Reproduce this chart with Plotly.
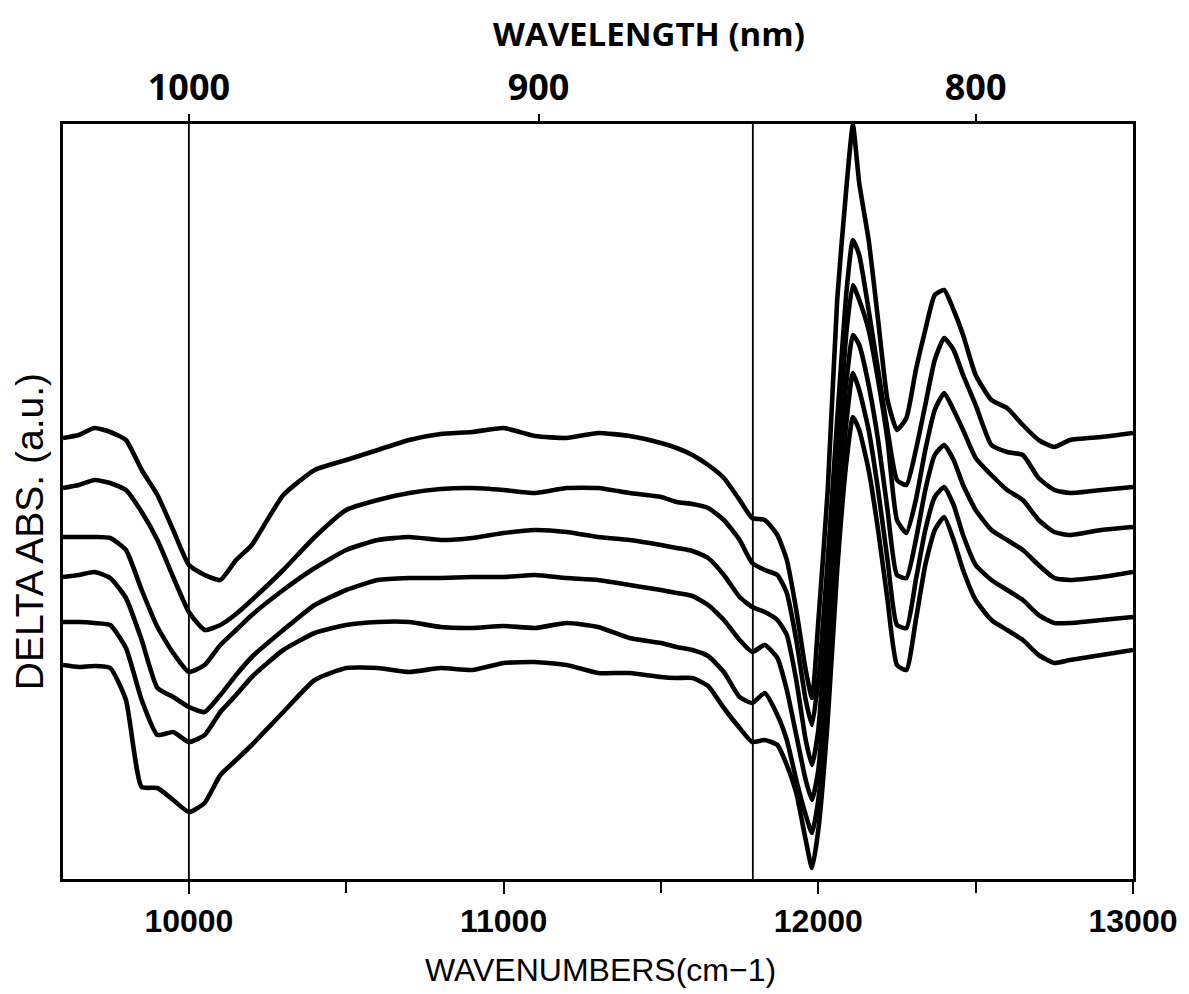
import plotly.graph_objects as go

# Wavenumber grid (cm-1) shared by all difference spectra
wavenumbers = [
    9600, 9650, 9700, 9750, 9800, 9850, 9900, 9950, 10000, 10050, 10100, 10150, 10200,
    10300, 10400, 10500, 10600, 10700, 10800, 10900, 11000, 11100, 11200, 11300, 11400, 11500,
    11550, 11600, 11650, 11700, 11750,
    11790, 11830, 11870, 11900, 11930, 11960, 11980, 12000,
    12030, 12060, 12090, 12110, 12130, 12160, 12190, 12220, 12250, 12280, 12310, 12340, 12370, 12400, 12430, 12460,
    12500, 12550, 12600, 12650, 12700, 12750, 12800, 12900, 13000,
]

# Delta absorbance (a.u.), stacked spectra from top to bottom
spectrum_1 = [
    4.42, 4.45, 4.52, 4.48, 4.40, 4.10, 3.85, 3.50, 3.15, 3.05, 3.00, 3.20, 3.35,
    3.85, 4.10, 4.20, 4.30, 4.40, 4.46, 4.48, 4.52, 4.44, 4.42, 4.47, 4.44, 4.37,
    4.32, 4.25, 4.15, 4.02, 3.80,
    3.62, 3.60, 3.45, 3.20, 2.70, 2.10, 1.82, 2.58,
    3.90, 5.80, 6.95, 7.55, 6.97, 6.40, 5.60, 4.80, 4.50, 4.62, 5.10, 5.50, 5.85, 5.90, 5.70, 5.45,
    5.05, 4.80, 4.72, 4.55, 4.40, 4.33, 4.40, 4.43, 4.47,
]
spectrum_2 = [
    3.92, 3.95, 4.00, 3.97, 3.90, 3.68, 3.40, 3.03, 2.68, 2.50, 2.55, 2.66, 2.80,
    3.10, 3.43, 3.70, 3.80, 3.87, 3.91, 3.92, 3.90, 3.87, 3.92, 3.92, 3.87, 3.83,
    3.78, 3.76, 3.72, 3.60, 3.40,
    3.17, 3.10, 3.05, 2.87, 2.40, 1.80, 1.55, 2.00,
    3.20, 4.60, 5.90, 6.40, 6.25, 5.70, 5.10, 4.50, 4.00, 3.95, 4.30, 4.75, 5.20, 5.42, 5.30, 5.05,
    4.75, 4.35, 4.28, 4.25, 4.02, 3.90, 3.87, 3.90, 3.93,
]
spectrum_3 = [
    3.43, 3.43, 3.43, 3.42, 3.30, 2.90, 2.53, 2.27, 2.08, 2.15, 2.35, 2.50, 2.65,
    2.90, 3.12, 3.30, 3.40, 3.43, 3.40, 3.42, 3.47, 3.50, 3.48, 3.43, 3.40, 3.35,
    3.32, 3.29, 3.22, 3.05, 2.83,
    2.73, 2.68, 2.60, 2.45, 2.00, 1.40, 1.15, 1.50,
    2.80, 4.20, 5.50, 5.95, 5.80, 5.50, 5.00, 4.40, 3.60, 3.47, 3.80, 4.30, 4.70, 4.87, 4.70, 4.50,
    4.22, 4.05, 3.90, 3.80, 3.60, 3.48, 3.45, 3.50, 3.53,
]
spectrum_4 = [
    3.03, 3.05, 3.08, 3.02, 2.82, 2.40, 1.92, 1.83, 1.73, 1.68, 1.85, 2.05, 2.23,
    2.50, 2.75, 2.90, 3.00, 3.02, 3.02, 3.03, 3.03, 3.05, 3.02, 3.00, 2.95, 2.90,
    2.87, 2.84, 2.75, 2.60, 2.40,
    2.28, 2.35, 2.22, 1.90, 1.45, 1.00, 0.80, 1.10,
    2.30, 3.80, 5.00, 5.45, 5.35, 4.95, 4.40, 3.70, 3.05, 3.02, 3.40, 3.90, 4.25, 4.35, 4.20, 3.95,
    3.70, 3.50, 3.40, 3.30, 3.15, 3.02, 3.00, 3.03, 3.08,
]
spectrum_5 = [
    2.58, 2.58, 2.57, 2.55, 2.32, 1.80, 1.45, 1.48, 1.38, 1.45, 1.68, 1.85, 2.03,
    2.30, 2.47, 2.55, 2.58, 2.58, 2.53, 2.52, 2.54, 2.52, 2.57, 2.53, 2.42, 2.37,
    2.33, 2.30, 2.24, 2.08, 1.83,
    1.77, 1.87, 1.65, 1.40, 1.00, 0.65, 0.47, 0.80,
    1.90, 3.40, 4.60, 5.07, 4.90, 4.50, 3.90, 3.20, 2.55, 2.52, 3.00, 3.50, 3.83, 3.93, 3.75, 3.45,
    3.15, 3.00, 2.90, 2.80, 2.65, 2.57, 2.57, 2.60, 2.63,
]
spectrum_6 = [
    2.15, 2.13, 2.14, 2.12, 1.80, 0.93, 0.92, 0.80, 0.68, 0.77, 1.05, 1.20, 1.35,
    1.68, 2.00, 2.12, 2.12, 2.08, 2.12, 2.10, 2.17, 2.18, 2.15, 2.07, 2.07, 2.03,
    2.02, 2.02, 1.94, 1.72, 1.52,
    1.38, 1.40, 1.35, 1.15, 0.87, 0.40, 0.12, 0.50,
    1.60, 3.10, 4.20, 4.63, 4.50, 4.10, 3.50, 2.80, 2.15, 2.10, 2.60, 3.15, 3.50, 3.63, 3.40, 3.10,
    2.80, 2.60, 2.50, 2.40, 2.25, 2.17, 2.20, 2.25, 2.30,
]
spectra = [spectrum_1, spectrum_2, spectrum_3, spectrum_4, spectrum_5, spectrum_6]

# Axis scales
x_range = [9600, 13000]
y_range = [0.01, 7.56]
wavenumber_ticks = [10000, 11000, 12000, 13000]
wavenumber_minor = [10500, 11500, 12500]
wavelength_labels = [1000, 900, 800]      # nm, top axis
marker_wavenumbers = [10000, 11792]       # vertical reference lines

FONT_SANS = "Liberation Sans, Arial, sans-serif"
FONT_ROUND = "Open Sans, DejaVu Sans, sans-serif"

fig = go.Figure()
for ys in spectra:
    fig.add_trace(go.Scatter(
        x=wavenumbers, y=ys, mode="lines",
        line=dict(color="black", width=4.6, shape="spline", smoothing=0.5),
        showlegend=False, hoverinfo="skip",
    ))

# invisible trace to carry the top wavelength axis
fig.add_trace(go.Scatter(x=x_range, y=y_range, xaxis="x2", mode="lines",
                         line=dict(color="rgba(0,0,0,0)"), showlegend=False, hoverinfo="skip"))

for wn in marker_wavenumbers:
    fig.add_shape(type="line", xref="x", yref="paper", x0=wn, x1=wn, y0=0, y1=1,
                  line=dict(color="black", width=1.8))

fig.update_layout(
    width=1189, height=994,
    margin=dict(l=63, r=51, t=124, b=115),
    paper_bgcolor="white", plot_bgcolor="white",
    xaxis=dict(
        range=x_range, showgrid=False, zeroline=False,
        tickmode="array", tickvals=wavenumber_ticks,
        ticktext=[str(v) for v in wavenumber_ticks],
        ticks="outside", ticklen=12, tickwidth=2.4, tickcolor="black",
        minor=dict(tickmode="array", tickvals=wavenumber_minor, ticks="outside",
                   ticklen=11, tickwidth=2.4, tickcolor="black"),
        showline=True, linecolor="black", linewidth=2.8, mirror=True,
        tickfont=dict(family=FONT_SANS, size=32, weight=700, color="black"),
    ),
    xaxis2=dict(
        overlaying="x", side="top", range=x_range, showgrid=False, zeroline=False,
        tickmode="array", tickvals=[1e7 / nm for nm in wavelength_labels],
        ticktext=[str(nm) for nm in wavelength_labels],
        ticks="outside", ticklen=9, tickwidth=2.4, tickcolor="black",
        showline=False,
        tickfont=dict(family=FONT_ROUND, size=36, weight=700, color="black"),
    ),
    yaxis=dict(
        range=y_range, showgrid=False, zeroline=False, showticklabels=False, ticks="",
        showline=True, linecolor="black", linewidth=2.8, mirror=True,
    ),
    annotations=[
        dict(text="<b>WAVELENGTH (nm)</b>", xref="paper", yref="paper", x=0.548, y=1.1205,
             showarrow=False, xanchor="center", yanchor="middle",
             font=dict(family=FONT_ROUND, size=33, color="black")),
        dict(text="WAVENUMBERS(cm\u22121)", xref="paper", yref="paper", x=0.502, y=-0.1205,
             showarrow=False, xanchor="center", yanchor="middle",
             font=dict(family=FONT_SANS, size=32, color="black")),
        dict(text="DELTA ABS. (a.u.)", xref="paper", yref="paper", x=-0.0316, y=0.4596,
             showarrow=False, xanchor="center", yanchor="middle", textangle=-90,
             font=dict(family=FONT_SANS, size=39, color="black")),
    ],
)

fig.write_html("out.html")
